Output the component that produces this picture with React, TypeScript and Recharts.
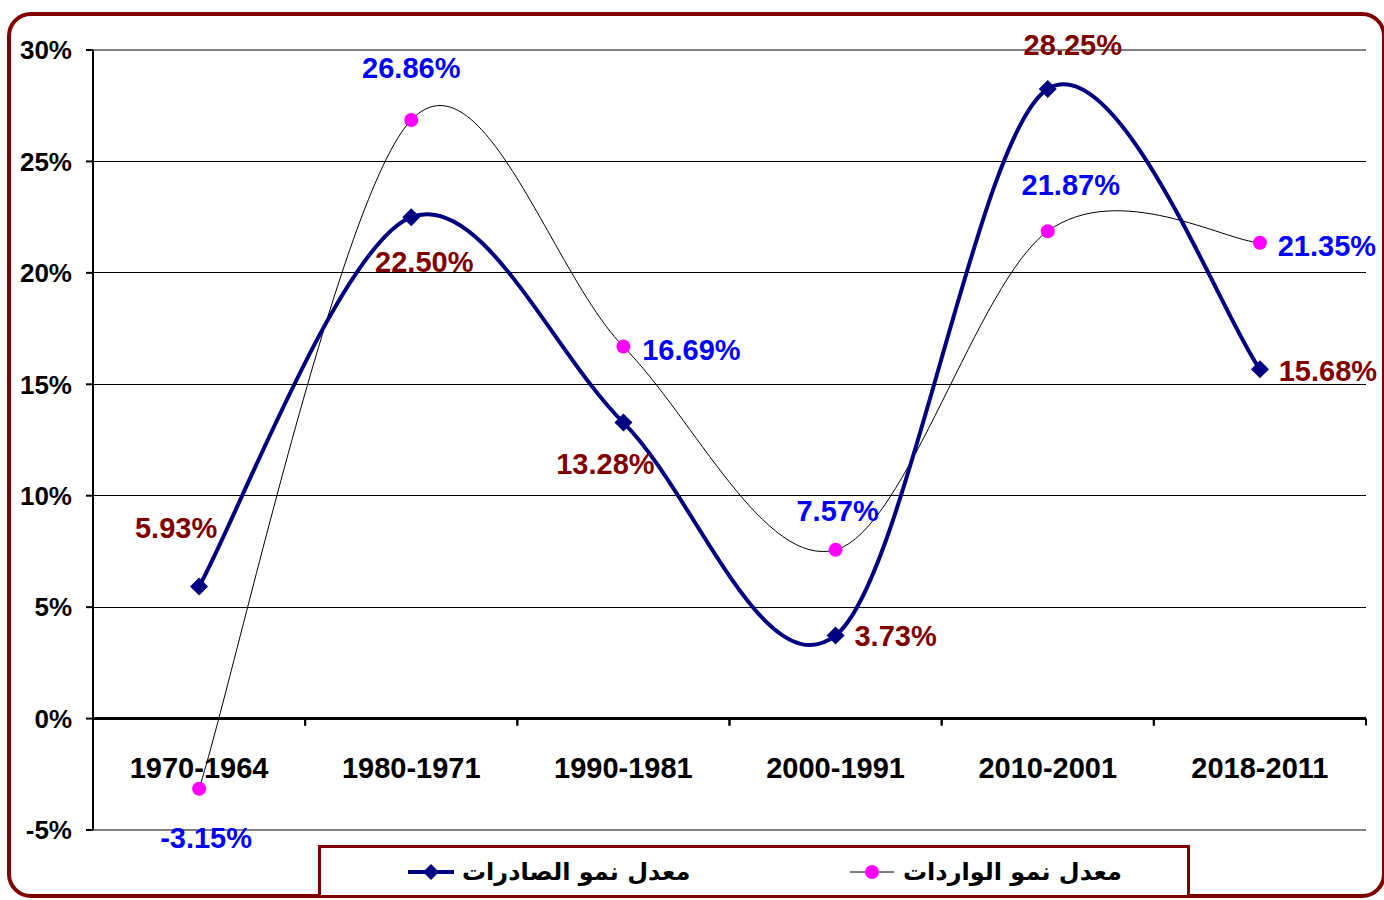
import {
  LineChart,
  Line,
  XAxis,
  YAxis,
  CartesianGrid,
  ReferenceLine,
  LabelList,
} from "recharts";

const periods = [
  "1970-1964",
  "1980-1971",
  "1990-1981",
  "2000-1991",
  "2010-2001",
  "2018-2011",
];
const exportsGrowth = [5.93, 22.5, 13.28, 3.73, 28.25, 15.68];
const importsGrowth = [-3.15, 26.86, 16.69, 7.57, 21.87, 21.35];
const yTicks = [-5, 0, 5, 10, 15, 20, 25, 30];

const exportsName = "معدل نمو الصادرات";
const importsName = "معدل نمو الواردات";

// label placement around each point [dx, dy]
const exportsLabelOffset = [
  [-23, -58],
  [13, 45],
  [-18, 41],
  [60, 1],
  [25, -44],
  [68, 2],
];
const importsLabelOffset = [
  [7, 49],
  [0, -52],
  [68, 3],
  [2, -39],
  [23, -46],
  [67, 3],
];

const data = periods.map((period, i) => ({
  period,
  exports: exportsGrowth[i],
  imports: importsGrowth[i],
}));

const W = 1384;
const H = 900;
const MARGIN = { top: 50, right: 18, bottom: 40, left: 13 };
const X_AXIS_H = 30;
const Y_AXIS_W = 80;
const Y_MIN = -5;
const Y_MAX = 30;
const plotLeft = MARGIN.left + Y_AXIS_W;
const plotW = W - MARGIN.right - plotLeft;
const plotH = H - MARGIN.top - MARGIN.bottom - X_AXIS_H;
const band = plotW / periods.length;
const zeroY = MARGIN.top + (Y_MAX / (Y_MAX - Y_MIN)) * plotH;

const FONT = "'Liberation Sans', Arial, sans-serif";
const NAVY = "#000080";
const MAGENTA = "#FF00FF";
const DARK_RED = "#800000";

// excel-like smoothed line (catmull-rom as bezier)
const excelSmooth = (context: any) => {
  let pts: number[][] = [];
  return {
    areaStart() {},
    areaEnd() {},
    lineStart() {
      pts = [];
    },
    point(x: number, y: number) {
      pts.push([+x, +y]);
    },
    lineEnd() {
      const n = pts.length;
      if (!n) return;
      context.moveTo(pts[0][0], pts[0][1]);
      for (let i = 0; i < n - 1; i++) {
        const p0 = pts[i - 1] || pts[i];
        const p1 = pts[i];
        const p2 = pts[i + 1];
        const p3 = pts[i + 2] || p2;
        context.bezierCurveTo(
          p1[0] + (p2[0] - p0[0]) / 6,
          p1[1] + (p2[1] - p0[1]) / 6,
          p2[0] - (p3[0] - p1[0]) / 6,
          p2[1] - (p3[1] - p1[1]) / 6,
          p2[0],
          p2[1]
        );
      }
    },
  };
};

const PeriodTick = (props: any) => {
  const { x, payload } = props;
  return (
    <g>
      <line x1={x - band / 2} x2={x - band / 2} y1={zeroY} y2={zeroY + 7} stroke="#000" strokeWidth={2} />
      <line x1={x + band / 2} x2={x + band / 2} y1={zeroY} y2={zeroY + 7} stroke="#000" strokeWidth={2} />
      <text
        x={x}
        y={zeroY + 49}
        textAnchor="middle"
        dominantBaseline="central"
        fontSize={29}
        fontWeight="bold"
        fontFamily={FONT}
        fill="#000"
      >
        {payload.value}
      </text>
    </g>
  );
};

const makeLabel = (offsets: number[][], color: string) => (props: any) => {
  const { index, value } = props;
  const x = props.viewBox?.x ?? props.x;
  const y = props.viewBox?.y ?? props.y;
  const [dx, dy] = offsets[index] || [0, -30];
  return (
    <text
      x={x + dx}
      y={y + dy}
      textAnchor="middle"
      dominantBaseline="central"
      fontSize={29}
      fontWeight="bold"
      fontFamily={FONT}
      fill={color}
    >
      {`${Number(value).toFixed(2)}%`}
    </text>
  );
};

const Diamond = (props: any) => {
  const { cx, cy } = props;
  if (cx == null || cy == null) return null;
  const r = 9;
  return (
    <path
      d={`M${cx},${cy - r} L${cx + r},${cy} L${cx},${cy + r} L${cx - r},${cy} Z`}
      fill={NAVY}
    />
  );
};

const Dot = (props: any) => {
  const { cx, cy } = props;
  if (cx == null || cy == null) return null;
  return <circle cx={cx} cy={cy} r={7} fill={MAGENTA} />;
};

const ChartLegend = () => (
  <div
    style={{
      position: "absolute",
      left: 318,
      top: 845,
      width: 872,
      height: 53,
      boxSizing: "border-box",
      border: `3px solid ${DARK_RED}`,
      background: "#fff",
    }}
  >
    <div style={{ position: "absolute", left: 87, top: 0, height: 47, display: "flex", alignItems: "center" }}>
      <svg width={46} height={20}>
        <line x1={0} x2={46} y1={10} y2={10} stroke={NAVY} strokeWidth={4} />
        <path d="M23,2 L31,10 L23,18 L15,10 Z" fill={NAVY} />
      </svg>
      <span style={{ marginLeft: 8, fontFamily: "'DejaVu Sans', sans-serif", fontWeight: "bold", fontSize: 24, color: "#000" }}>
        {exportsName}
      </span>
    </div>
    <div style={{ position: "absolute", left: 529, top: 0, height: 47, display: "flex", alignItems: "center" }}>
      <svg width={44} height={20}>
        <line x1={0} x2={44} y1={10} y2={10} stroke="#000" strokeWidth={1} />
        <circle cx={22} cy={10} r={7} fill={MAGENTA} />
      </svg>
      <span style={{ marginLeft: 9, fontFamily: "'DejaVu Sans', sans-serif", fontWeight: "bold", fontSize: 24, color: "#000" }}>
        {importsName}
      </span>
    </div>
  </div>
);

export default function App() {
  return (
    <div
      style={{
        position: "fixed",
        left: 0,
        top: 0,
        width: W,
        height: H,
        overflow: "hidden",
        background: "#fff",
        fontFamily: FONT,
      }}
    >
      <div
        style={{
          position: "absolute",
          left: 7,
          top: 12,
          width: 1379,
          height: 886,
          boxSizing: "border-box",
          border: `4px solid ${DARK_RED}`,
          borderRadius: 24,
        }}
      />
      <div style={{ position: "absolute", left: 0, top: 0 }}>
        <LineChart width={W} height={H} data={data} margin={MARGIN}>
          <CartesianGrid vertical={false} stroke="#000" strokeWidth={1} shapeRendering="crispEdges" />
          <XAxis
            dataKey="period"
            height={X_AXIS_H}
            padding={{ left: band / 2, right: band / 2 }}
            axisLine={{ stroke: "#808080", strokeWidth: 2 }}
            tickLine={false}
            tick={<PeriodTick />}
            interval={0}
          />
          <YAxis
            width={Y_AXIS_W}
            domain={[Y_MIN, Y_MAX]}
            ticks={yTicks}
            interval={0}
            tickFormatter={(v) => `${v}%`}
            axisLine={{ stroke: "#000", strokeWidth: 2 }}
            tickLine={{ stroke: "#000", strokeWidth: 2 }}
            tickSize={7}
            tickMargin={14}
            tick={{ fill: "#000", fontSize: 26, fontWeight: "bold", fontFamily: FONT }}
          />
          <YAxis
            yAxisId="right"
            orientation="right"
            width={0}
            domain={[Y_MIN, Y_MAX]}
            axisLine={{ stroke: "#808080", strokeWidth: 2 }}
            tick={false}
            tickLine={false}
          />
          <ReferenceLine y={Y_MAX} stroke="#808080" strokeWidth={2} />
          <ReferenceLine y={0} stroke="#000" strokeWidth={3} />
          <Line
            dataKey="imports"
            name={importsName}
            type={excelSmooth as any}
            stroke="#000"
            strokeWidth={1}
            dot={<Dot />}
            activeDot={false}
            isAnimationActive={false}
          >
            <LabelList dataKey="imports" content={makeLabel(importsLabelOffset, "#0000FF")} />
          </Line>
          <Line
            dataKey="exports"
            name={exportsName}
            type={excelSmooth as any}
            stroke={NAVY}
            strokeWidth={4}
            dot={<Diamond />}
            activeDot={false}
            isAnimationActive={false}
          >
            <LabelList dataKey="exports" content={makeLabel(exportsLabelOffset, DARK_RED)} />
          </Line>
        </LineChart>
      </div>
      <ChartLegend />
    </div>
  );
}
